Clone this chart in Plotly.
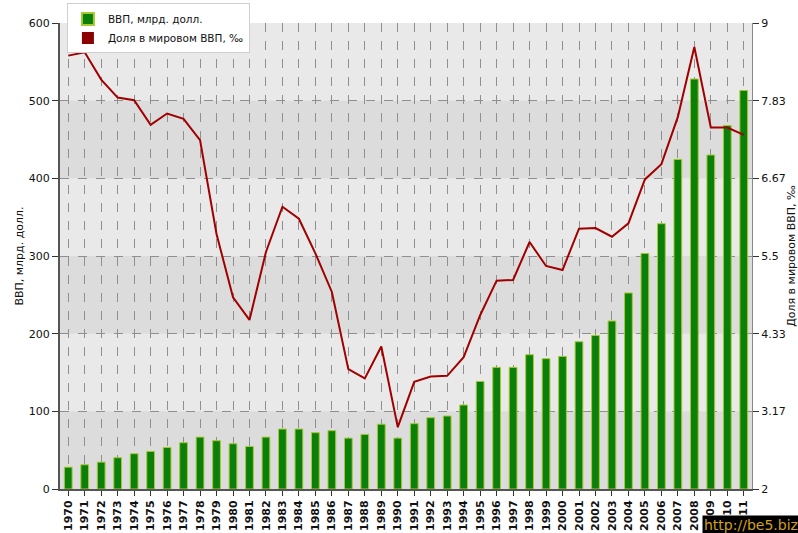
import plotly.graph_objects as go

years = list(range(1970, 2012))
year_labels = [str(y) for y in range(1970, 2009)] + ["009", "010", "011"]

gdp_bln_usd = [28.1, 31.2, 34.6, 40.3, 45.4, 48.4, 53.5, 59.6, 66.8, 62.2,
               58.3, 54.8, 66.8, 77.2, 77.2, 72.5, 75.1, 65.5, 70.3, 83.4,
               65.5, 84.1, 91.8, 94.0, 108.1, 138.5, 156.6, 156.6, 172.9, 167.8,
               170.7, 189.6, 197.8, 216.3, 252.4, 303.3, 341.6, 424.4, 527.9, 430.0,
               468.1, 513.2]

world_share_permille = [8.51, 8.56, 8.15, 7.88, 7.84, 7.47, 7.64, 7.56, 7.24, 5.83,
                        4.88, 4.54, 5.56, 6.24, 6.06, 5.54, 4.96, 3.80, 3.66, 4.14,
                        2.93, 3.61, 3.69, 3.70, 3.98, 4.61, 5.13, 5.14, 5.71, 5.35,
                        5.29, 5.91, 5.92, 5.79, 5.99, 6.65, 6.88, 7.59, 8.64, 7.43,
                        7.43, 7.32]

left_ticks = [0, 100, 200, 300, 400, 500, 600]
right_ticks = [2, 3.17, 4.33, 5.5, 6.67, 7.83, 9]
right_ticktext = ["2", "3.17", "4.33", "5.5", "6.67", "7.83", "9"]

name_gdp = "ВВП, млрд. долл."
name_share = "Доля в мировом ВВП, ‰"

FONT = "DejaVu Sans"

fig = go.Figure()

fig.add_trace(go.Bar(
    x=years, y=gdp_bln_usd, name=name_gdp, width=0.47,
    marker=dict(color="#0a800a", line=dict(color="#a6c832", width=1)),
))
fig.add_trace(go.Scatter(
    x=years, y=world_share_permille, yaxis="y2", mode="lines",
    line=dict(color="#a00000", width=2), showlegend=False, name=name_share,
))
# legend entry with a square marker, as in the reference
fig.add_trace(go.Scatter(
    x=[None], y=[None], yaxis="y2", mode="markers", name=name_share,
    marker=dict(symbol="square", color="#8b0000", size=6),
))

# alternating horizontal bands
shapes = []
for i in range(len(left_ticks) - 1):
    if i % 2 == 0:
        shapes.append(dict(type="rect", xref="paper", yref="y", x0=0, x1=1,
                           y0=left_ticks[i], y1=left_ticks[i + 1],
                           fillcolor="#dcdcdc", line=dict(width=0), layer="below"))

fig.update_layout(
    width=798, height=533,
    margin=dict(l=60, r=46, t=23, b=44, autoexpand=False),
    paper_bgcolor="white", plot_bgcolor="#e9e9e9",
    font=dict(family=FONT, size=11, color="#111"),
    bargap=0.5,
    shapes=shapes,
    showlegend=True,
    legend=dict(x=0.01, y=1.042, xanchor="left", yanchor="top",
                bgcolor="white", bordercolor="#cfcfcf", borderwidth=1,
                font=dict(family=FONT, size=10.5, color="#111"),
                tracegroupgap=0, itemsizing="constant", itemwidth=30),
    xaxis=dict(
        range=[1969.5, 2011.5], tickmode="array", tickvals=years, ticktext=year_labels,
        tickangle=-90, tickfont=dict(family=FONT, size=11, color="#111", weight="bold"),
        showgrid=True, gridcolor="#8f8f8f", griddash="dash", gridwidth=1,
        showline=True, linecolor="#555", linewidth=2, automargin=False,
        ticks="outside", ticklen=5, tickcolor="#333", zeroline=False,
    ),
    yaxis=dict(
        range=[0, 600], tickvals=left_ticks, automargin=False,
        title=dict(text=name_gdp, font=dict(family=FONT, size=11), standoff=3),
        tickfont=dict(family=FONT, size=11, color="#111"),
        showgrid=True, gridcolor="#8f8f8f", griddash="dash", gridwidth=1,
        showline=True, linecolor="#555", linewidth=2,
        ticks="outside", ticklen=6, tickcolor="#333", zeroline=False,
    ),
    yaxis2=dict(
        range=[2, 9], overlaying="y", side="right", automargin=False,
        tickvals=right_ticks, ticktext=right_ticktext,
        title=dict(text=name_share, font=dict(family=FONT, size=11), standoff=20),
        tickfont=dict(family=FONT, size=11, color="#111"),
        showgrid=False, showline=True, linecolor="#888", linewidth=1,
        ticks="outside", ticklen=6, tickcolor="#333", zeroline=False,
    ),
)

fig.add_annotation(
    text="http://be5.biz", xref="paper", yref="paper", x=0.928, y=-0.078,
    xanchor="left", yanchor="middle", showarrow=False,
    font=dict(family=FONT, size=14, color="#d4a017"), bgcolor="black",
)

fig.write_html(
    "out.html",
    config={"displayModeBar": False},
    post_script="document.body.style.margin='0';document.body.style.overflow='hidden';",
)
